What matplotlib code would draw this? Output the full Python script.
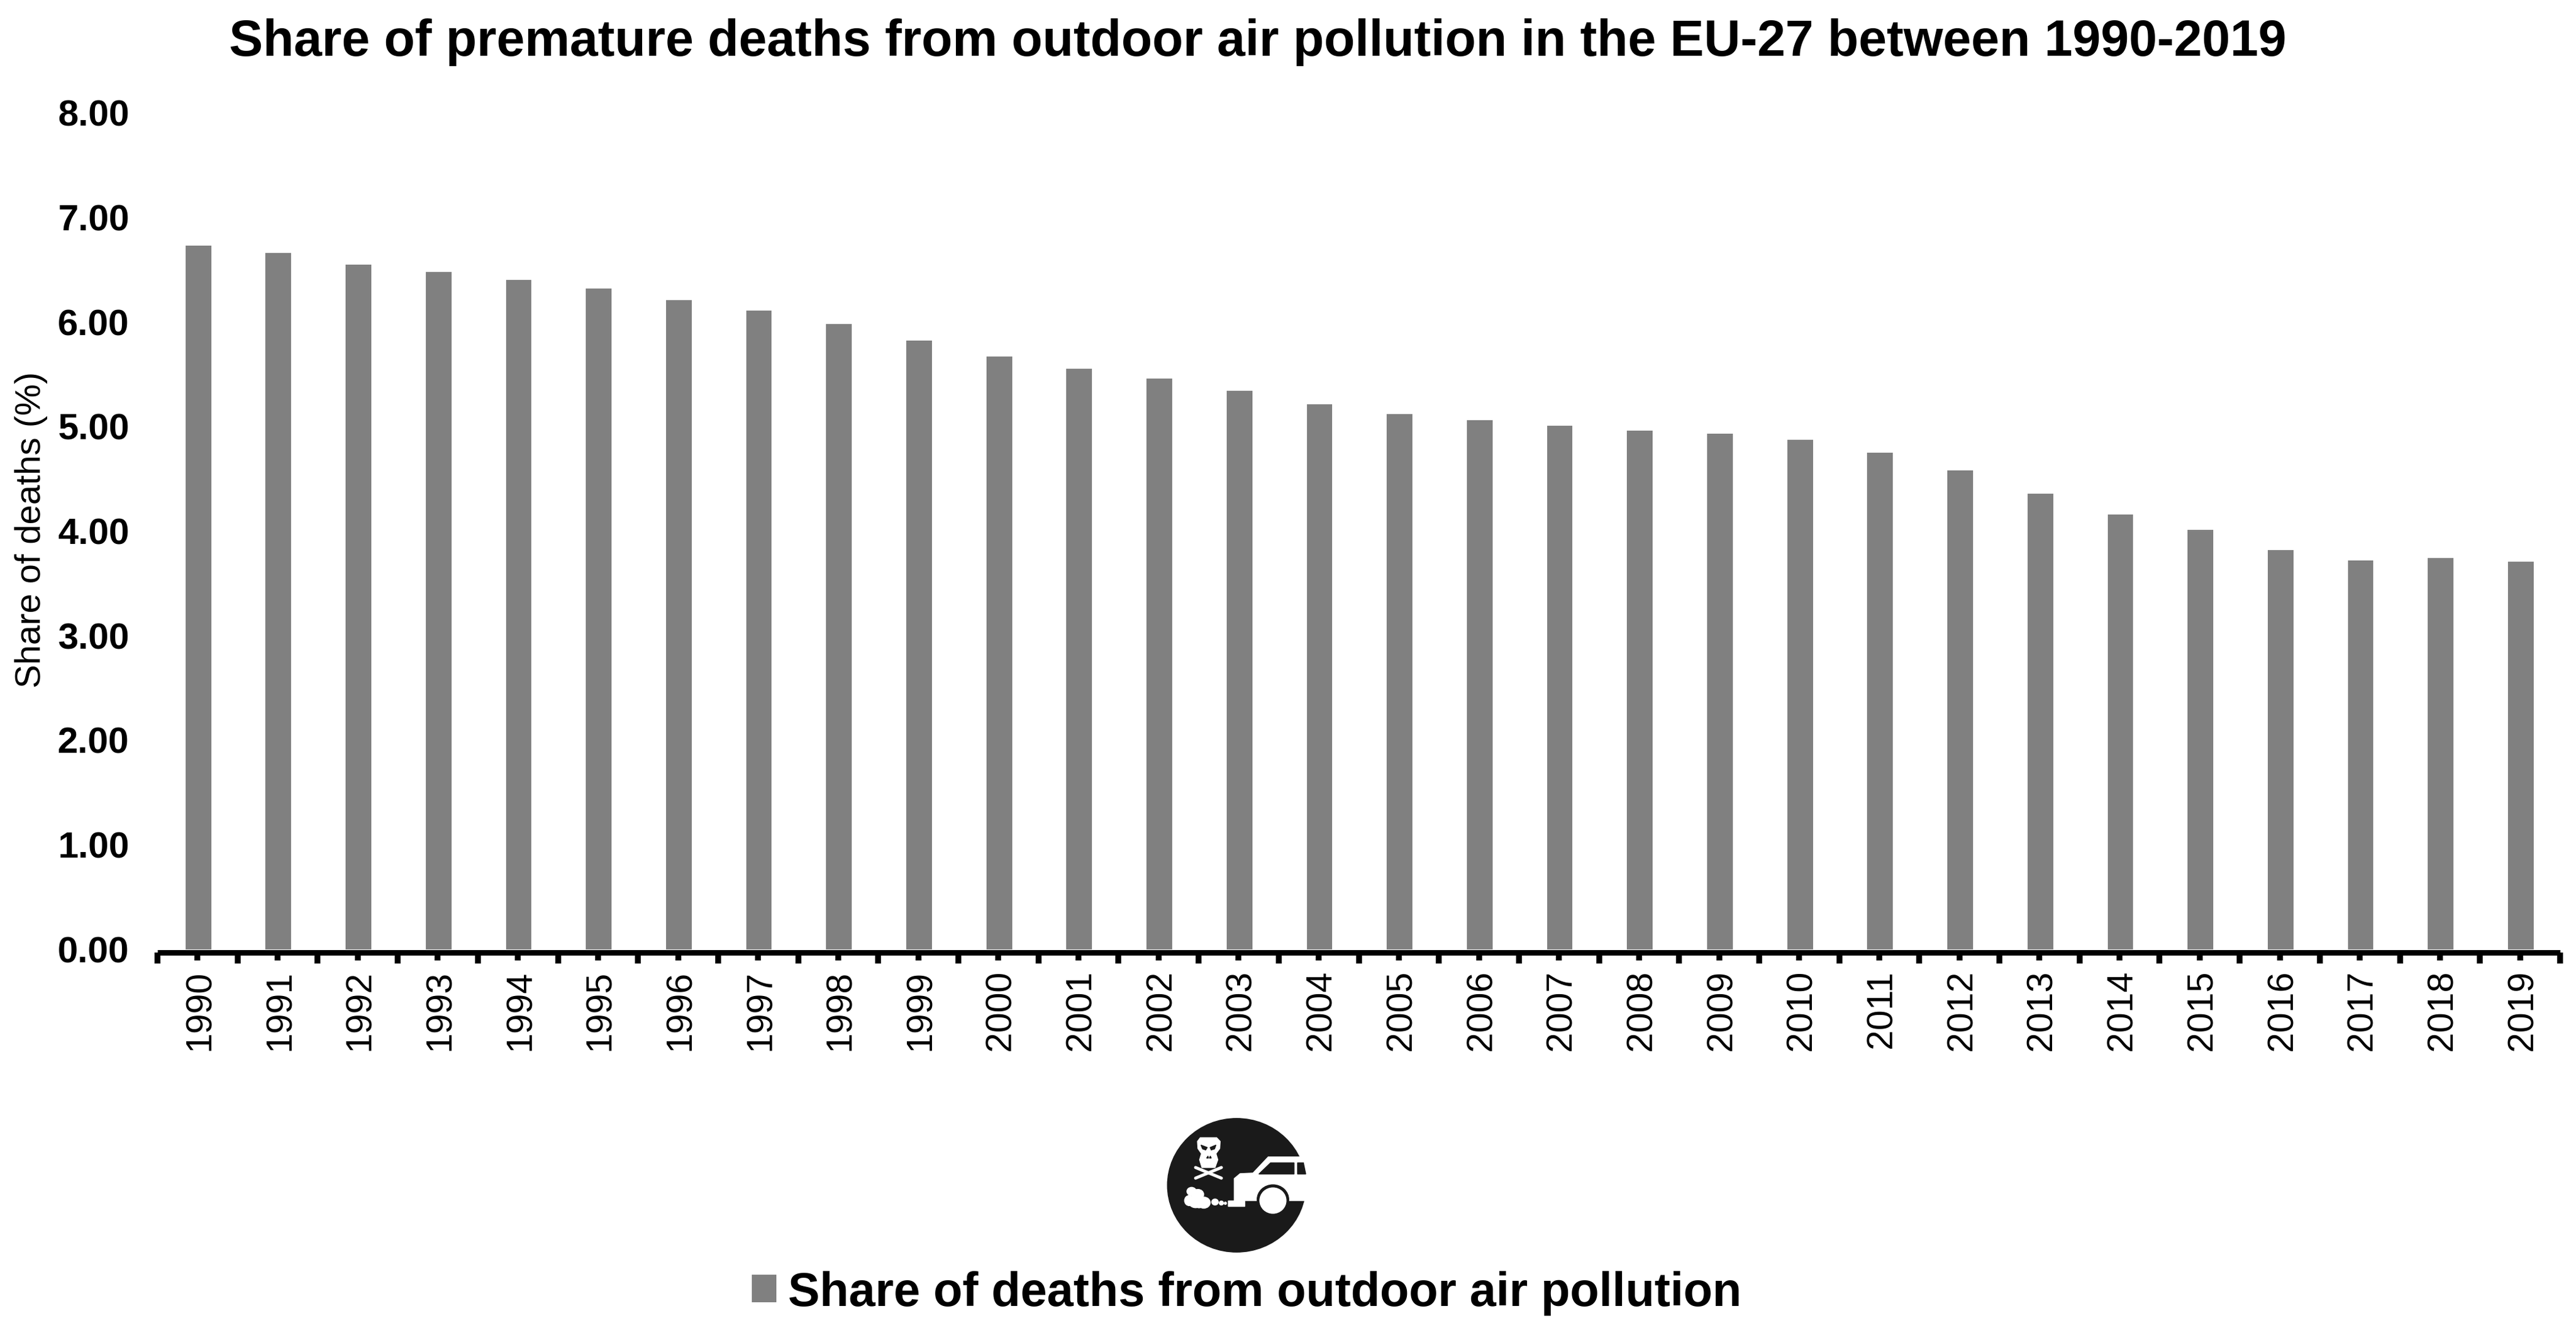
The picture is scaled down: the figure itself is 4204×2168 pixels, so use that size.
import matplotlib
matplotlib.use('Agg')
import matplotlib.pyplot as plt
from matplotlib.patches import Ellipse, Polygon, Rectangle
from matplotlib.transforms import ScaledTranslation
import numpy as np

plt.rcParams['font.family'] = ['Liberation Sans', 'DejaVu Sans']

W, H = 4204, 2168
years = list(range(1990, 2020))
share = [6.73, 6.66, 6.55, 6.48, 6.40, 6.32, 6.21, 6.11, 5.98, 5.82,
         5.67, 5.55, 5.46, 5.34, 5.21, 5.12, 5.06, 5.01, 4.96, 4.93,
         4.87, 4.75, 4.58, 4.36, 4.16, 4.01, 3.82, 3.72, 3.74, 3.71]
y_ticks = [0, 1, 2, 3, 4, 5, 6, 7, 8]
title = 'Share of premature deaths from outdoor air pollution in the EU-27 between 1990-2019'
series_name = 'Share of deaths from outdoor air pollution'
GREY = '#808080'


def px(n):
    return n * 0.72  # pixels to points at dpi 100


fig = plt.figure(figsize=(W / 100, H / 100), dpi=100)
ax = fig.add_axes([257 / W, 1 - 1550 / H, (4178 - 257) / W, (1550 - 184) / H])

x = np.arange(len(years))
bars = ax.bar(x + 0.01, share, width=0.32, color=GREY, label=series_name)
ax.set_xlim(-0.5, len(years) - 0.5)
ax.set_ylim(0, 8)

for s in ['top', 'right', 'left']:
    ax.spines[s].set_visible(False)
ax.spines['bottom'].set_position(('outward', px(4.5)))
ax.spines['bottom'].set_linewidth(px(9))
ax.spines['bottom'].set_capstyle('butt')

# long ticks between the years, short ones under the bars
ax.set_xticks(np.arange(len(years) + 1) - 0.5)
ax.set_xticklabels([])
ax.set_xticks(x, minor=True)
ax.set_xticklabels(years, minor=True, rotation=90, fontsize=px(59), va='top', ha='center')
ax.tick_params(axis='x', which='major', length=px(17.5), width=px(9.5), color='black')
ax.tick_params(axis='x', which='minor', length=px(12.5), width=px(9.5), color='black', pad=px(17))
for lab in ax.get_xticklabels(minor=True):
    lab.set_transform(lab.get_transform() + ScaledTranslation(4 / 100, 0, fig.dpi_scale_trans))

ax.set_yticks(y_ticks)
ax.set_yticklabels(['%.2f' % v for v in y_ticks], fontsize=px(60), fontweight='bold')
ax.tick_params(axis='y', length=0, pad=px(46))
ax.set_ylabel('Share of deaths (%)', fontsize=px(58))
ax.yaxis.set_label_coords(78 / W, 1 - 865 / H, transform=fig.transFigure)

fig.text(2053 / W, 1 - 91 / H, title, fontsize=px(82.6), fontweight='bold', ha='center', va='baseline')

leg = fig.legend(handles=[bars], loc='center left', bbox_to_anchor=(1227 / W, 1 - 2111 / H),
                 frameon=False, prop={'weight': 'bold', 'size': px(77.6)},
                 handlelength=0.515, handleheight=0.515, handletextpad=0.25, borderpad=0, borderaxespad=0)

# logo, drawn in a small axes over the region below the chart
logo = fig.add_axes([1800 / W, 1 - (1780 + 388) / H, 600 / W, 388 / H])
logo.set_xlim(0, 1568)
logo.set_ylim(1164, 0)
logo.axis('off')
logo.patch.set_alpha(0)

disc = Ellipse((570, 465), 590, 655, color='#1a1a1a', zorder=1)
logo.add_patch(disc)
disc.set_clip_path(Rectangle((0, 0), 865, 1164, transform=logo.transData))

WHITE = 'white'
DARK = '#1a1a1a'
logo.add_patch(Polygon([(560, 540), (560, 432), (585, 408), (640, 405), (705, 326),
                        (865, 326), (865, 540)], color=WHITE, zorder=2))
logo.add_patch(Polygon([(665, 410), (715, 355), (815, 355), (815, 410)], color=DARK, zorder=3))
logo.add_patch(Polygon([(830, 355), (855, 355), (865, 410), (830, 410)], color=DARK, zorder=3))
logo.add_patch(Ellipse((725, 535), 135, 145, color=DARK, zorder=3))
logo.add_patch(Ellipse((725, 540), 112, 125, color=WHITE, zorder=4))
logo.add_patch(Rectangle((533, 540), 70, 27, color=WHITE, zorder=3))
# smoke
for cx, cy, w, h in [(378, 495, 40, 40), (405, 510, 50, 50), (368, 540, 40, 50), (395, 545, 60, 60),
                     (430, 550, 55, 55), (410, 558, 40, 35), (478, 547, 28, 30),
                     (505, 552, 18, 20), (522, 553, 10, 12)]:
    logo.add_patch(Ellipse((cx, cy), w, h, color=WHITE, zorder=3))
# skull and bones
logo.add_patch(Polygon([(403, 250), (415, 232), (485, 232), (500, 250), (498, 285), (482, 310),
                        (490, 340), (478, 378), (422, 378), (412, 340), (420, 310), (405, 285)],
                       color=WHITE, zorder=3))
logo.add_patch(Polygon([(418, 268), (445, 280), (438, 292), (425, 287)], color=DARK, zorder=4))
logo.add_patch(Polygon([(482, 268), (457, 280), (462, 292), (476, 287)], color=DARK, zorder=4))
logo.add_patch(Polygon([(442, 332), (448, 322), (450, 332)], color=DARK, zorder=4))
logo.add_patch(Polygon([(454, 332), (458, 322), (462, 332)], color=DARK, zorder=4))
logo.plot([395, 505], [378, 430], color=WHITE, lw=px(5), solid_capstyle='round', zorder=3)
logo.plot([505, 395], [378, 430], color=WHITE, lw=px(5), solid_capstyle='round', zorder=3)

fig.savefig('out.png', dpi=100, facecolor='white')
